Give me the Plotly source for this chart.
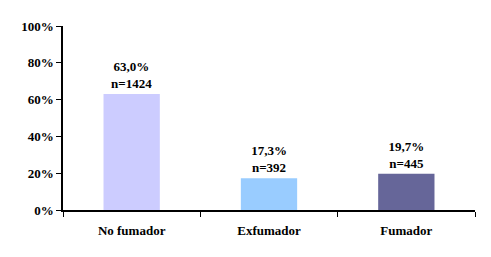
import plotly.graph_objects as go

categories = ["No fumador", "Exfumador", "Fumador"]
values = [63.0, 17.3, 19.7]
counts = [1424, 392, 445]
colors = ["#CCCCFF", "#99CCFF", "#666699"]
tick_vals = [0, 20, 40, 60, 80, 100]
tick_text = ["0%", "20%", "40%", "60%", "80%", "100%"]

labels = [f"{v:.1f}%".replace(".", ",") + f"<br>n={n}" for v, n in zip(values, counts)]

fam = "Liberation Serif, Times New Roman, serif"
font = dict(family=fam, size=13, color="black", weight="bold")

fig = go.Figure(go.Bar(
    x=categories, y=values, marker=dict(color=colors, line=dict(width=0)),
    text=labels, textposition="outside", textfont=font,
    cliponaxis=False, hoverinfo="skip",
))
fig.update_layout(
    width=491, height=257, margin=dict(l=63, r=16, t=26, b=47),
    plot_bgcolor="white", paper_bgcolor="white", showlegend=False,
    bargap=0.59, font=font,
)
fig.update_xaxes(showline=True, linecolor="black", linewidth=1.5, ticks="outside",
                 tickson="boundaries", ticklen=5, tickcolor="black", tickwidth=1,
                 tickfont=font, ticklabelstandoff=8,
                 showgrid=False, fixedrange=True)
fig.update_yaxes(range=[0, 100], tickvals=tick_vals, ticktext=tick_text,
                 showline=True, linecolor="black", linewidth=1.5, ticks="outside",
                 ticklen=5, tickcolor="black", tickwidth=1, showgrid=False, zeroline=False,
                 tickfont=font, fixedrange=True)
fig.write_html("out.html", config={"displayModeBar": False})
